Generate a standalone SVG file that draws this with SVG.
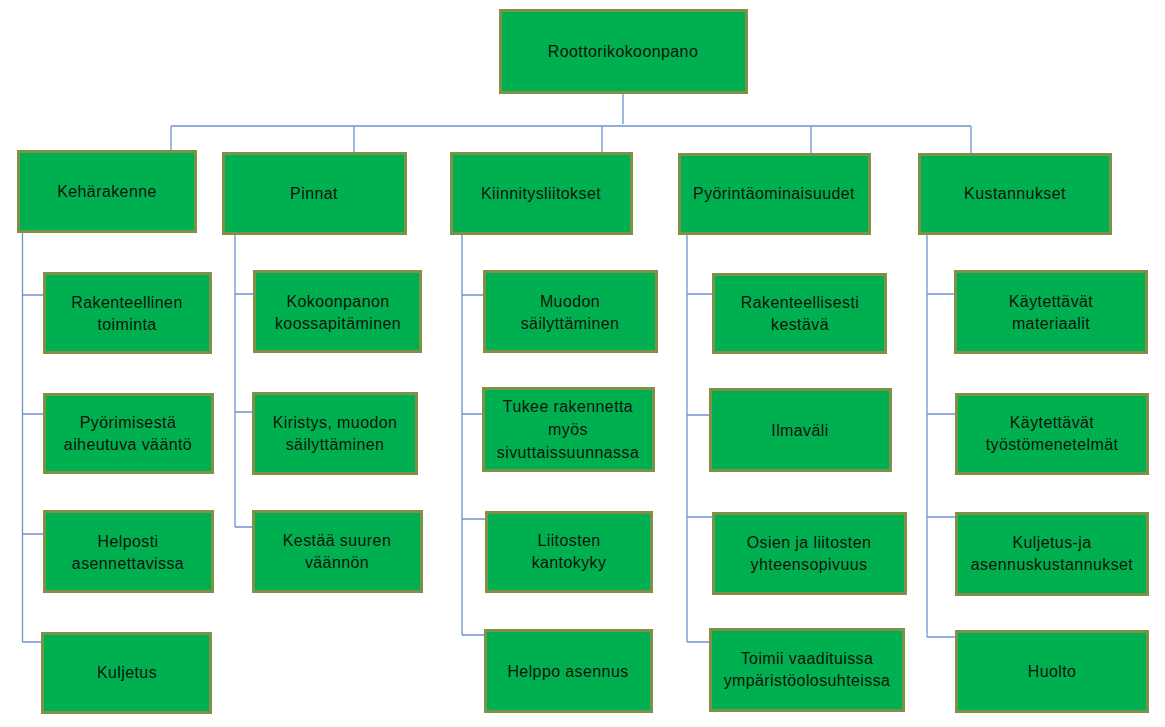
<svg xmlns="http://www.w3.org/2000/svg" width="1165" height="727" viewBox="0 0 1165 727">
<style>
.b{fill:#00B050;stroke:#7E9146;stroke-width:3}
.t{font-family:"Liberation Sans",Arial,sans-serif;font-size:16px;letter-spacing:0.4px;fill:#0A140A;text-anchor:middle}
.c{stroke:#6F93D0;stroke-width:1.3;fill:none}
</style>
<rect width="1165" height="727" fill="#ffffff"/>
<g id="connectors" class="c">
<path d="M623,94V124M171,126H971M171,126V150M354,126V152M602,126V152M811,126V153M971,126V153"/>
<path d="M22.5,233V642M22.5,295H43M22.5,414H43M22.5,534H43M22.5,642H41"/>
<path d="M235,235V527M235,294H253M235,412H252M235,527H252"/>
<path d="M462,235V635M462,295H483M462,414H482M462,519H485M462,635H484"/>
<path d="M687,235V642M687,294H712M687,415H709M687,517H712M687,642H709"/>
<path d="M927,235V637M927,294H954M927,414H955M927,517H955M927,637H955"/>
</g>
<g id="root"><rect class="b" x="500.5" y="10.5" width="246" height="82"/><text class="t" x="623" y="57">Roottorikokoonpano</text></g>
<g id="kehärakenne"><rect class="b" x="18.5" y="151.5" width="177" height="80"/><text class="t" x="107" y="197">Kehärakenne</text></g>
<g id="pinnat"><rect class="b" x="223.5" y="153.5" width="182" height="80"/><text class="t" x="314" y="199">Pinnat</text></g>
<g id="kiinnitysliitokset"><rect class="b" x="451.5" y="153.5" width="180" height="80"/><text class="t" x="541" y="199">Kiinnitysliitokset</text></g>
<g id="pyorintaominaisuudet"><rect class="b" x="679.5" y="154.5" width="190" height="79"/><text class="t" x="774" y="199">Pyörintäominaisuudet</text></g>
<g id="kustannukset"><rect class="b" x="919.5" y="154.5" width="191" height="79"/><text class="t" x="1015" y="199">Kustannukset</text></g>

<g id="rakenteellinen"><rect class="b" x="44.5" y="273.5" width="166" height="79"/><text class="t" x="127" y="308">Rakenteellinen</text><text class="t" x="127" y="330">toiminta</text></g>
<g id="pyorimisesta"><rect class="b" x="44.5" y="394.5" width="168" height="78"/><text class="t" x="128" y="428">Pyörimisestä</text><text class="t" x="128" y="450">aiheutuva vääntö</text></g>
<g id="helposti"><rect class="b" x="44.5" y="511.5" width="168" height="80"/><text class="t" x="128" y="547">Helposti</text><text class="t" x="128" y="569">asennettavissa</text></g>
<g id="kuljetus"><rect class="b" x="42.5" y="633.5" width="168" height="79"/><text class="t" x="127" y="678">Kuljetus</text></g>

<g id="kokoonpanon"><rect class="b" x="254.5" y="271.5" width="166" height="80"/><text class="t" x="338" y="307">Kokoonpanon</text><text class="t" x="338" y="329">koossapitäminen</text></g>
<g id="kiristys"><rect class="b" x="253.5" y="393.5" width="163" height="80"/><text class="t" x="335" y="428">Kiristys, muodon</text><text class="t" x="335" y="450">säilyttäminen</text></g>
<g id="kestaa"><rect class="b" x="253.5" y="511.5" width="168" height="80"/><text class="t" x="337" y="546">Kestää suuren</text><text class="t" x="337" y="568">väännön</text></g>

<g id="muodon"><rect class="b" x="484.5" y="271.5" width="172" height="80"/><text class="t" x="570" y="307">Muodon</text><text class="t" x="570" y="329">säilyttäminen</text></g>
<g id="tukee"><rect class="b" x="483.5" y="388.5" width="170" height="82"/><text class="t" x="568" y="412">Tukee rakennetta</text><text class="t" x="568" y="435">myös</text><text class="t" x="568" y="458">sivuttaissuunnassa</text></g>
<g id="liitosten"><rect class="b" x="486.5" y="512.5" width="165" height="79"/><text class="t" x="569" y="546">Liitosten</text><text class="t" x="569" y="568">kantokyky</text></g>
<g id="helppo"><rect class="b" x="485.5" y="630.5" width="166" height="81"/><text class="t" x="568" y="677">Helppo asennus</text></g>

<g id="rakenteellisesti"><rect class="b" x="713.5" y="274.5" width="172" height="78"/><text class="t" x="800" y="308">Rakenteellisesti</text><text class="t" x="800" y="330">kestävä</text></g>
<g id="ilmavali"><rect class="b" x="710.5" y="389.5" width="180" height="81"/><text class="t" x="800" y="436">Ilmaväli</text></g>
<g id="osien"><rect class="b" x="713.5" y="513.5" width="192" height="80"/><text class="t" x="809" y="548">Osien ja liitosten</text><text class="t" x="809" y="570">yhteensopivuus</text></g>
<g id="toimii"><rect class="b" x="710.5" y="629.5" width="193" height="81"/><text class="t" x="807" y="664">Toimii vaadituissa</text><text class="t" x="807" y="686">ympäristöolosuhteissa</text></g>

<g id="materiaalit"><rect class="b" x="955.5" y="271.5" width="191" height="81"/><text class="t" x="1051" y="307">Käytettävät</text><text class="t" x="1051" y="329">materiaalit</text></g>
<g id="tyostomenetelmat"><rect class="b" x="956.5" y="394.5" width="191" height="79"/><text class="t" x="1052" y="428">Käytettävät</text><text class="t" x="1052" y="450">työstömenetelmät</text></g>
<g id="kuljetuskustannukset"><rect class="b" x="956.5" y="513.5" width="191" height="81"/><text class="t" x="1052" y="548">Kuljetus-ja</text><text class="t" x="1052" y="570">asennuskustannukset</text></g>
<g id="huolto"><rect class="b" x="956.5" y="631.5" width="191" height="80"/><text class="t" x="1052" y="677">Huolto</text></g>
</svg>
